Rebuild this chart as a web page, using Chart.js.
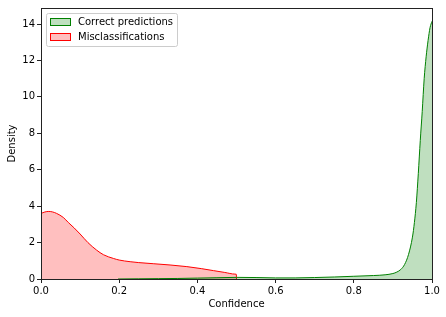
<!DOCTYPE html>
<html>
<head>
<meta charset="utf-8">
<script src="https://cdn.jsdelivr.net/npm/chart.js@4/dist/chart.umd.min.js"></script>
<style>
html,body{margin:0;padding:0;background:#fff;}
#wrap{width:446px;height:317px;position:relative;}
</style>
</head>
<body>
<div id="wrap"><canvas id="c" width="446" height="317"></canvas></div>
<script>
const seriesLabels = ["Correct predictions", "Misclassifications"];
const correctX = [0.197,0.25,0.3,0.35,0.4,0.45,0.5,0.55,0.6,0.65,0.7,0.75,0.8,0.85,0.88,0.9,0.91,0.92,0.93,0.94,0.95,0.955,0.96,0.965,0.97,0.975,0.98,0.985,0.99,0.995,1.0];
const correctY = [0.0,0.01,0.02,0.03,0.05,0.07,0.09,0.08,0.06,0.06,0.08,0.11,0.15,0.19,0.23,0.3,0.38,0.52,0.8,1.35,2.3,3.1,4.2,5.8,7.6,9.2,11.0,12.2,13.1,13.8,14.15];
const misX = [0,0.01,0.02,0.03,0.04,0.057,0.07,0.085,0.1,0.12,0.142,0.16,0.185,0.2,0.228,0.25,0.287,0.33,0.373,0.41,0.441,0.47,0.496,0.4995,0.5];
const misY = [3.6,3.68,3.71,3.68,3.6,3.38,3.1,2.8,2.47,2.0,1.59,1.33,1.13,1.04,0.95,0.9,0.84,0.77,0.68,0.57,0.46,0.36,0.27,0.26,0.0];
const xTicks = [0,0.2,0.4,0.6,0.8,1.0];
const yTicks = [0,2,4,6,8,10,12,14];
const yMax = 14.88;

const FONT = "'DejaVu Sans', sans-serif";
const toPts = (xs, ys) => xs.map((x, i) => ({x: x, y: ys[i]}));

const frame = {
  id: 'frame',
  afterDatasetsDraw(chart) {
    const a = chart.chartArea, ctx = chart.ctx;
    ctx.save();
    ctx.strokeStyle = '#222';
    ctx.lineWidth = 1;
    ctx.strokeRect(Math.round(a.left) + 0.5, Math.round(a.top) + 0.5, Math.round(a.right - a.left), Math.round(a.bottom - a.top));
    ctx.restore();
  },
  afterDraw(chart) {
    const ctx = chart.ctx;
    const a = chart.chartArea;
    const x0 = a.left + 5, y0 = a.top + 5, w = 131, h = 33;
    ctx.save();
    ctx.fillStyle = 'rgba(255,255,255,0.8)';
    ctx.strokeStyle = '#cccccc';
    ctx.lineWidth = 1;
    ctx.beginPath();
    if (ctx.roundRect) ctx.roundRect(x0 + 0.5, y0 + 0.5, w, h, 2); else ctx.rect(x0 + 0.5, y0 + 0.5, w, h);
    ctx.fill(); ctx.stroke();
    ctx.font = '10px ' + FONT;
    ctx.textBaseline = 'middle';
    chart.data.datasets.forEach((ds, i) => {
      const py = y0 + 5 + i * 15;
      ctx.fillStyle = ds.backgroundColor;
      ctx.fillRect(x0 + 4, py, 20, 7);
      ctx.strokeStyle = ds.borderColor;
      ctx.strokeRect(x0 + 4.5, py + 0.5, 20, 7);
      ctx.fillStyle = '#000';
      ctx.fillText(ds.label, x0 + 32, py + 4);
    });
    ctx.restore();
  }
};

new Chart(document.getElementById('c'), {
  type: 'line',
  data: {
    datasets: [
      {
        label: seriesLabels[0],
        data: toPts(correctX, correctY),
        borderColor: '#008000',
        backgroundColor: 'rgba(0,128,0,0.25)',
        borderWidth: 1,
        fill: 'origin',
        pointRadius: 0,
        cubicInterpolationMode: 'monotone'
      },
      {
        label: seriesLabels[1],
        data: toPts(misX, misY),
        borderColor: '#ff0000',
        backgroundColor: 'rgba(255,0,0,0.25)',
        borderWidth: 1,
        fill: 'origin',
        pointRadius: 0,
        cubicInterpolationMode: 'monotone'
      }
    ]
  },
  options: {
    responsive: false,
    animation: false,
    devicePixelRatio: 1,
    layout: {padding: {left: 0, top: 7, right: 14, bottom: 0}},
    plugins: {legend: {display: false}, tooltip: {enabled: false}},
    scales: {
      x: {
        type: 'linear',
        min: 0, max: 1,
        afterFit(s) { s.height = 38; },
        afterBuildTicks(s) { s.ticks = xTicks.map(v => ({value: v})); },
        ticks: {
          color: '#000', font: {family: FONT, size: 10}, padding: 2,
          maxRotation: 0, autoSkip: false,
          callback: v => Number(v).toFixed(1)
        },
        grid: {display: true, drawOnChartArea: false, drawTicks: true, tickLength: 4, color: '#222'},
        border: {display: true, color: '#222'},
        title: {display: true, text: 'Confidence', color: '#000', font: {family: FONT, size: 10}, padding: {top: 2, bottom: 7}}
      },
      y: {
        type: 'linear',
        min: 0, max: yMax,
        afterFit(s) { s.width = 41; },
        afterBuildTicks(s) { s.ticks = yTicks.map(v => ({value: v})); },
        ticks: {
          color: '#000', font: {family: FONT, size: 10}, padding: 2, autoSkip: false,
          callback: v => String(v)
        },
        grid: {display: true, drawOnChartArea: false, drawTicks: true, tickLength: 4, color: '#222'},
        border: {display: true, color: '#222'},
        title: {display: true, text: 'Density', color: '#000', font: {family: FONT, size: 10}, padding: {top: 6, bottom: 0}}
      }
    }
  },
  plugins: [frame]
});
</script>
</body>
</html>
